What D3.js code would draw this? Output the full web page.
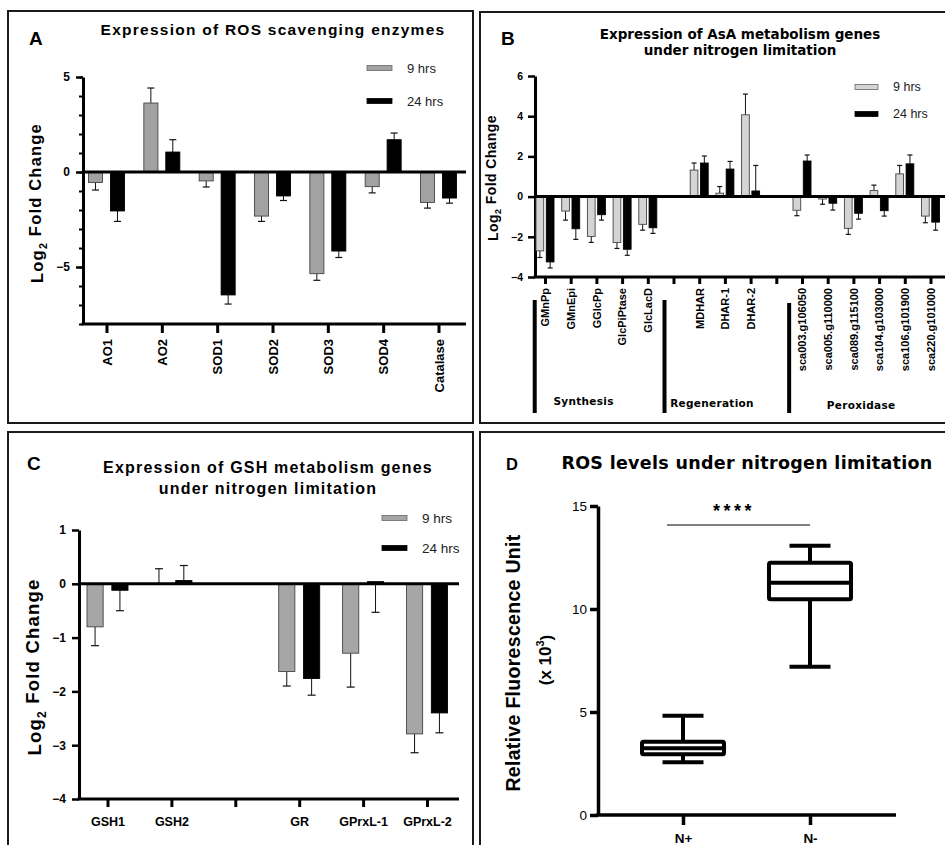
<!DOCTYPE html>
<html lang="en">
<head>
<meta charset="UTF-8">
<title>ROS / AsA / GSH expression</title>
<script src="https://d3js.org/d3.v7.min.js"></script>
<style>
  body { margin: 0; background: #fff; }
  svg { display: block; font-family: "Liberation Sans", Arial, sans-serif; }
  .frame { fill: none; stroke: #1a1a1a; stroke-width: 2; }
  .axis path, .axis line { stroke: #000; }
  .axis text { fill: #000; font-weight: bold; font-family: "Liberation Sans", Arial, sans-serif; }
  .legend text { fill: #222; }
</style>
</head>
<body>
<svg width="945" height="845"></svg>
<script>
// ---- data ----
const series = ["9 hrs", "24 hrs"];

// panel A
const catsA = ["AO1", "AO2", "SOD1", "SOD2", "SOD3", "SOD4", "Catalase"];
const a9 = [-0.55, 3.63, -0.47, -2.32, -5.35, -0.77, -1.6];
const a9err = [-0.4, 0.79, -0.32, -0.28, -0.35, -0.33, -0.3];
const a24 = [-2.05, 1.05, -6.47, -1.26, -4.16, 1.7, -1.37];
const a24err = [-0.55, 0.65, -0.48, -0.24, -0.34, 0.35, -0.27];
const ticksA = [5, 0, -5];

// panel B ("" = empty slot on the axis)
const catsB = ["GMnPp", "GMnEpi", "GGlcPp", "GlcPiPtase", "GlcLacD", "",
  "MDHAR", "DHAR-1", "DHAR-2", "",
  "sca003.g106050", "sca005.g110000", "sca089.g115100", "sca104.g103000", "sca106.g101900", "sca220.g101000"];
const b9 = [-2.7, -0.72, -1.98, -2.28, -1.38, null, 1.32, 0.17, 4.07, null, -0.68, -0.12, -1.58, 0.3, 1.13, -0.97];
const b9err = [-0.33, -0.45, -0.3, -0.3, -0.29, null, 0.35, 0.33, 1.03, null, -0.27, -0.26, -0.3, 0.27, 0.42, -0.33];
const b24 = [-3.25, -1.6, -0.9, -2.62, -1.55, null, 1.67, 1.37, 0.28, null, 1.77, -0.33, -0.83, -0.7, 1.63, -1.27];
const b24err = [-0.3, -0.53, -0.27, -0.3, -0.28, null, 0.35, 0.38, 1.27, null, 0.3, -0.34, -0.29, -0.27, 0.44, -0.4];
const ticksB = [6, 4, 2, 0, -2, -4];
const groupsB = ["Synthesis", "Regeneration", "Peroxidase"];
const groupLineAt = [-0.4, 4.65, 9.5];   // in category index units
const groupLabelAt = [1.5, 6.5, 12.3];

// panel C
const catsC = ["GSH1", "GSH2", "", "GR", "GPrxL-1", "GPrxL-2"];
const c9 = [-0.8, 0.0, null, -1.63, -1.29, -2.79];
const c9err = [-0.35, 0.28, null, -0.27, -0.63, -0.35];
const c24 = [-0.12, 0.06, null, -1.76, 0.04, -2.4];
const c24err = [-0.38, 0.28, null, -0.31, -0.57, -0.37];
const ticksC = [1, 0, -1, -2, -3, -4];

// panel D (box plot, x 10^3)
const catsD = ["N+", "N-"];
const dMin = [2.56, 7.2];
const dQ1 = [2.95, 10.47];
const dMed = [3.24, 11.28];
const dQ3 = [3.56, 12.25];
const dMax = [4.82, 13.07];
const ticksD = [0, 5, 10, 15];

const svg = d3.select("svg");

// panel frames
svg.append("rect").attr("class", "frame").attr("x", 8).attr("y", 11).attr("width", 465).attr("height", 412);
svg.append("rect").attr("class", "frame").attr("x", 480).attr("y", 12).attr("width", 480).attr("height", 411);
svg.append("rect").attr("class", "frame").attr("x", 8).attr("y", 432).attr("width", 465).attr("height", 430);
svg.append("rect").attr("class", "frame").attr("x", 480).attr("y", 432).attr("width", 480).attr("height", 430);

function letter(t, x, y, size) {
  svg.append("text").attr("x", x).attr("y", y).attr("font-size", size)
    .attr("font-weight", "bold").text(t);
}

function ylabel(g, x, y, size, spacing) {
  const t = g.append("text").attr("transform", `translate(${x},${y}) rotate(-90)`)
    .attr("text-anchor", "middle").attr("font-weight", "bold").attr("font-size", size)
    .attr("letter-spacing", spacing).attr("dy", "0.35em");
  t.append("tspan").text("Log");
  t.append("tspan").attr("font-size", size * 0.65).attr("dy", "0.35em").text("2");
  t.append("tspan").attr("dy", "-0.35em").text(" Fold Change");
}

// grouped bar panel
function barPanel(o) {
  const g = svg.append("g");
  const y = d3.scaleLinear().domain(o.yDomain).range(o.yRange);
  const x = d3.scaleLinear().domain([0, o.cats.length - 1]).range(o.xRange);
  const inner = d3.scaleBand().domain(series).range([-o.half, o.half]).paddingInner(o.pad);

  // minor ticks
  if (o.minor) {
    g.append("g").attr("class", "axis").attr("transform", `translate(${o.axisX},0)`)
      .call(d3.axisLeft(y).tickValues(o.minor).tickSize(4).tickFormat(""))
      .call(s => s.select(".domain").remove())
      .selectAll("line").attr("stroke-width", 2);
  }
  const ya = g.append("g").attr("class", "axis").attr("transform", `translate(${o.axisX},0)`)
    .call(d3.axisLeft(y).tickValues(o.ticks).tickSize(7).tickSizeOuter(0)
      .tickPadding(o.tickPad || 4).tickFormat(d3.format("d")));
  ya.select(".domain").attr("stroke-width", 3);
  ya.selectAll(".tick line").attr("stroke-width", 2.5);
  ya.selectAll("text").attr("font-size", o.tickFont);

  // bars
  const rows = [];
  o.cats.forEach((c, i) => {
    o.vals.forEach((arr, s) => {
      if (arr[i] !== null) rows.push({ i, s, v: arr[i], e: o.errs[s][i] });
    });
  });
  const bw = inner.bandwidth();
  const bar = g.selectAll(".bar").data(rows).join("g");
  bar.append("line")
    .attr("x1", d => x(d.i) + inner(series[d.s]) + bw / 2)
    .attr("x2", d => x(d.i) + inner(series[d.s]) + bw / 2)
    .attr("y1", d => y(d.v)).attr("y2", d => y(d.v + d.e))
    .attr("stroke", "#111").attr("stroke-width", 1);
  bar.append("line")
    .attr("x1", d => x(d.i) + inner(series[d.s]) + bw / 2 - o.cap)
    .attr("x2", d => x(d.i) + inner(series[d.s]) + bw / 2 + o.cap)
    .attr("y1", d => y(d.v + d.e)).attr("y2", d => y(d.v + d.e))
    .attr("stroke", "#111").attr("stroke-width", 1.2);
  bar.append("rect")
    .attr("x", d => x(d.i) + inner(series[d.s]))
    .attr("width", bw)
    .attr("y", d => Math.min(y(d.v), y(0)))
    .attr("height", d => Math.abs(y(d.v) - y(0)))
    .attr("fill", d => d.s === 0 ? o.gray : "#000")
    .attr("stroke", d => d.s === 0 ? "#444" : "#000").attr("stroke-width", 0.9);

  // zero line and x axis
  g.append("line").attr("x1", o.axisX).attr("x2", o.axisEnd)
    .attr("y1", y(0)).attr("y2", y(0)).attr("stroke", "#000").attr("stroke-width", 3);
  const xa = g.append("g").attr("class", "axis").attr("transform", `translate(0,${o.yRange[0]})`)
    .call(d3.axisBottom(x).tickValues(d3.range(o.cats.length)).tickSize(o.xTick).tickSizeOuter(0)
      .tickFormat(i => o.cats[i]));
  xa.select(".domain").remove();
  xa.selectAll(".tick line").attr("stroke-width", 3);
  g.append("line").attr("x1", o.axisX - 1.5).attr("x2", o.axisEnd)
    .attr("y1", o.yRange[0]).attr("y2", o.yRange[0]).attr("stroke", "#000").attr("stroke-width", 3);
  const xt = xa.selectAll("text").attr("font-size", o.xFont);
  if (o.rotate) {
    xt.attr("transform", "rotate(-90)").attr("x", -o.rotate).attr("y", 0)
      .attr("dy", "0.35em").attr("text-anchor", "end");
  } else {
    xt.attr("dy", "1.3em");
  }

  // legend
  const lg = g.append("g").attr("class", "legend");
  series.forEach((s, k) => {
    const ly = o.legY[k];
    lg.append("rect").attr("x", o.legX).attr("y", ly - 2.5).attr("width", o.legW).attr("height", 5)
      .attr("fill", k === 0 ? o.gray : "#000").attr("stroke", k === 0 ? "#666" : "#000").attr("stroke-width", 0.8);
    lg.append("text").attr("x", o.legX + o.legW + 15).attr("y", ly).attr("dy", "0.35em")
      .attr("font-size", o.legFont).text(s);
  });
  return { g, x, y };
}

// ---- panel A ----
letter("A", 29, 45, 19);
svg.append("text").attr("x", 273).attr("y", 35).attr("text-anchor", "middle")
  .attr("font-weight", "bold").attr("font-size", 15.5).attr("letter-spacing", 1.25)
  .text("Expression of ROS scavenging enzymes");
const pA = barPanel({
  cats: catsA, vals: [a9, a24], errs: [a9err, a24err],
  yDomain: [-8, 5], yRange: [324, 77], xRange: [106.5, 438.5],
  axisX: 83, axisEnd: 466, ticks: ticksA, minor: d3.range(-8, 6), tickFont: 12, tickPad: 6,
  half: 18, pad: 0.36, cap: 3.5, gray: "#a2a2a2",
  xTick: 9, xFont: 13, rotate: 15,
  legX: 367, legY: [68, 101], legW: 25, legFont: 13
});
ylabel(pA.g, 37, 203, 16.5, 1.2);

// ---- panel B ----
letter("B", 501, 45, 19);
const tB = svg.append("text").attr("text-anchor", "middle").attr("font-weight", "bold")
  .attr("font-family", "DejaVu Sans").attr("font-size", 13.5);
tB.append("tspan").attr("x", 740).attr("y", 39).text("Expression of AsA metabolism genes");
tB.append("tspan").attr("x", 740).attr("y", 55).text("under nitrogen limitation");
const pB = barPanel({
  cats: catsB, vals: [b9, b24], errs: [b9err, b24err],
  yDomain: [-4, 6], yRange: [277, 76], xRange: [545, 930.5],
  axisX: 535, axisEnd: 950, ticks: ticksB, tickFont: 10.5, tickPad: 5,
  half: 9, pad: 0.25, cap: 2.5, gray: "#d4d4d4",
  xTick: 7, xFont: 11, rotate: 11,
  legX: 855, legY: [87, 114], legW: 23, legFont: 12.5
});
ylabel(pB.g, 493, 178, 14, 0.4);
groupsB.forEach((name, k) => {
  pB.g.append("line").attr("x1", pB.x(groupLineAt[k])).attr("x2", pB.x(groupLineAt[k]))
    .attr("y1", k === 2 ? 303 : 300).attr("y2", 413).attr("stroke", "#000").attr("stroke-width", 4);
  pB.g.append("text").attr("x", pB.x(groupLabelAt[k])).attr("y", 401 + k * 2).attr("dy", "0.35em")
    .attr("text-anchor", "middle").attr("font-weight", "bold").attr("font-family", "DejaVu Sans")
    .attr("font-size", 10.5).attr("letter-spacing", 0.3).text(name);
});

// ---- panel C ----
letter("C", 27, 470, 19);
const tC = svg.append("text").attr("text-anchor", "middle").attr("font-weight", "bold").attr("font-size", 16)
  .attr("letter-spacing", 1.2);
tC.append("tspan").attr("x", 268).attr("y", 473).text("Expression of GSH metabolism genes");
tC.append("tspan").attr("x", 268).attr("y", 494).text("under nitrogen limitation");
const pC = barPanel({
  cats: catsC, vals: [c9, c24], errs: [c9err, c24err],
  yDomain: [-4, 1], yRange: [799, 530], xRange: [107.5, 427],
  axisX: 79, axisEnd: 459, ticks: ticksC, tickFont: 12, tickPad: 6,
  half: 20.5, pad: 0.35, cap: 4, gray: "#a6a6a6",
  xTick: 8, xFont: 12.5,
  legX: 382, legY: [518, 548], legW: 25, legFont: 13.5
});
ylabel(pC.g, 35, 667, 18.5, 1.2);

// ---- panel D ----
letter("D", 506, 470, 16.5);
svg.append("text").attr("x", 747).attr("y", 469).attr("text-anchor", "middle")
  .attr("font-weight", "bold").attr("font-family", "DejaVu Sans").attr("font-size", 17.5)
  .attr("letter-spacing", 0.3).text("ROS levels under nitrogen limitation");
const gD = svg.append("g");
const yD = d3.scaleLinear().domain([0, 15]).range([815, 506]);
const xD = d3.scalePoint().domain(catsD).range([683, 810]);
const yaD = gD.append("g").attr("class", "axis").attr("transform", "translate(598,0)")
  .call(d3.axisLeft(yD).tickValues(ticksD).tickSize(8).tickSizeOuter(0).tickPadding(3));
yaD.select(".domain").attr("stroke-width", 3.5);
yaD.selectAll(".tick line").attr("stroke-width", 3.5);
yaD.selectAll("text").attr("font-size", 13.5).style("font-weight", "normal");
const xaD = gD.append("g").attr("class", "axis").attr("transform", "translate(0,815)")
  .call(d3.axisBottom(xD).tickSize(10).tickSizeOuter(0).tickPadding(8));
xaD.select(".domain").remove();
xaD.selectAll(".tick line").attr("stroke-width", 3.5);
xaD.selectAll("text").attr("font-size", 13.5);
gD.append("line").attr("x1", 596).attr("x2", 896).attr("y1", 815).attr("y2", 815)
  .attr("stroke", "#000").attr("stroke-width", 3.5);

const boxW = 82, capW = 41;
const boxes = gD.selectAll(".box").data(catsD.map((c, i) => ({ c, i }))).join("g");
boxes.append("line").attr("x1", d => xD(d.c)).attr("x2", d => xD(d.c))
  .attr("y1", d => yD(dMin[d.i])).attr("y2", d => yD(dMax[d.i]))
  .attr("stroke", "#000").attr("stroke-width", 4);
boxes.selectAll(".cap").data(d => [[d.c, dMin[d.i]], [d.c, dMax[d.i]]]).join("line")
  .attr("x1", d => xD(d[0]) - capW / 2).attr("x2", d => xD(d[0]) + capW / 2)
  .attr("y1", d => yD(d[1])).attr("y2", d => yD(d[1]))
  .attr("stroke", "#000").attr("stroke-width", 4);
boxes.append("rect").attr("x", d => xD(d.c) - boxW / 2).attr("width", boxW)
  .attr("y", d => yD(dQ3[d.i])).attr("height", d => yD(dQ1[d.i]) - yD(dQ3[d.i]))
  .attr("fill", "#fff").attr("stroke", "#000").attr("stroke-width", 4).attr("rx", 1.5);
boxes.append("line").attr("x1", d => xD(d.c) - boxW / 2).attr("x2", d => xD(d.c) + boxW / 2)
  .attr("y1", d => yD(dMed[d.i])).attr("y2", d => yD(dMed[d.i]))
  .attr("stroke", "#000").attr("stroke-width", 4);

// significance bar
gD.append("line").attr("x1", xD("N+") - 16).attr("x2", xD("N-")).attr("y1", 525).attr("y2", 525)
  .attr("stroke", "#000").attr("stroke-width", 1);
gD.append("text").attr("x", 734).attr("y", 517).attr("text-anchor", "middle")
  .attr("font-weight", "bold").attr("font-size", 18).attr("letter-spacing", 3.5).text("****");

// y label D
gD.append("text").attr("transform", "translate(513,663) rotate(-90)").attr("text-anchor", "middle")
  .attr("dy", "0.35em").attr("font-weight", "bold").attr("font-size", 19.5)
  .attr("letter-spacing", 0.3).text("Relative Fluorescence Unit");
const yl2 = gD.append("text").attr("transform", "translate(545,660) rotate(-90)").attr("text-anchor", "middle")
  .attr("dy", "0.35em").attr("font-weight", "bold").attr("font-size", 17);
yl2.append("tspan").text("(x 10");
yl2.append("tspan").attr("font-size", 11).attr("dy", "-0.6em").text("3");
yl2.append("tspan").attr("dy", "0.45em").text(")");
</script>
</body>
</html>
